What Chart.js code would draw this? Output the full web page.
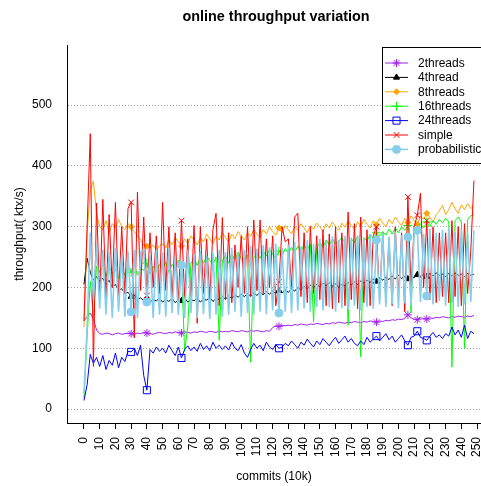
<!doctype html>
<html>
<head>
<meta charset="UTF-8" />
<script src="https://cdn.jsdelivr.net/npm/chart.js"></script>
<style>
  html, body { margin: 0; padding: 0; background: #fff; }
  canvas { display: block; }
</style>
</head>
<body>
<canvas id="throughputChart" width="481" height="486"></canvas>
<script>
// x positions (commits, in 10k)
const commits = [0,2,4,6,8,10,12,14,16,18,20,22,24,26,28,30,32,34,36,38,40,42,44,46,48,50,52,54,56,58,60,62,64,66,68,70,72,74,76,78,80,82,84,86,88,90,92,94,96,98,100,102,104,106,108,110,112,114,116,118,120,122,124,126,128,130,132,134,136,138,140,142,144,146,148,150,152,154,156,158,160,162,164,166,168,170,172,174,176,178,180,182,184,186,188,190,192,194,196,198,200,202,204,206,208,210,212,214,216,218,220,222,224,226,228,230,232,234,236,238,240,242,244,246,248];
const xTicks = [0,10,20,30,40,50,60,70,80,90,100,110,120,130,140,150,160,170,180,190,200,210,220,230,240,250];
const yTicks = [0,100,200,300,400,500];
// commits where the plot symbols sit
const markerAt = [30,40,62,124,186,206,212,218];

const twoThreads = [145,152,158,148,130,
  124,123,125,124,122,124,125,123,124,125,
  124,123,125,124,126,125,124,123,125,126,
  125,124,126,125,127,126,125,127,126,125,
  127,126,128,127,126,128,127,126,128,127,
  128,127,129,128,127,129,128,127,129,128,
  129,128,127,129,128,134,137,136,138,137,
  138,137,139,138,140,139,138,140,139,141,
  140,139,141,140,142,141,143,142,141,143,
  142,144,143,142,144,143,145,144,143,145,
  144,146,145,147,146,148,147,149,155,150,
  148,147,150,149,148,150,149,151,150,152,
  151,150,152,151,153,152,151,153,152,154];

const fourThread = [205,248,225,212,218,
  210,215,205,212,200,205,195,198,190,192,
  185,188,180,183,178,182,176,180,178,182,
  176,180,177,182,175,179,178,183,176,180,
  178,182,176,181,179,184,177,182,180,185,
  181,186,182,188,184,189,185,190,186,191,
  187,192,188,193,189,194,190,195,191,196,
  192,198,194,200,196,202,198,204,200,205,
  201,207,203,208,202,206,200,205,203,208,
  204,209,205,211,207,212,208,214,210,216,
  212,217,213,219,214,220,215,218,214,219,
  216,221,217,222,218,223,219,224,220,222,
  218,223,219,224,220,222,218,223,220,222];

const eightThreads = [135,290,360,375,320,
  300,295,310,290,305,298,312,300,295,305,
  300,292,285,278,270,268,265,270,262,268,
  272,265,278,270,282,275,268,280,272,285,
  278,270,282,275,288,280,272,285,278,290,
  282,275,288,280,292,285,278,290,284,295,
  288,282,295,288,300,292,286,298,290,302,
  295,288,300,294,305,298,290,302,296,306,
  300,292,305,298,308,300,294,306,299,310,
  302,296,308,300,312,304,298,310,303,314,
  306,300,312,305,316,308,302,314,307,318,
  310,304,318,312,322,315,308,320,326,335,
  320,328,340,330,322,336,328,338,330,334];

const sixteenThreads = [18,120,210,150,235,
  225,240,218,235,222,230,215,232,220,236,
  225,238,220,232,228,240,222,235,226,238,
  230,242,225,238,232,245,235,95,135,240,
  248,236,250,240,252,244,238,250,113,245,
  252,240,255,246,258,248,242,254,77,250,
  256,248,260,252,262,255,248,260,252,264,
  256,266,258,268,260,270,262,272,143,265,
  274,266,278,270,280,272,276,282,274,138,
  280,274,284,86,282,276,288,280,290,284,
  292,286,296,288,298,290,300,294,302,158,
  300,294,305,298,308,300,310,304,312,306,
  314,308,69,310,316,308,100,312,318,320];

const twentyFourThreads = [14,40,90,75,85,
  70,88,65,80,72,92,68,85,78,95,
  94,100,88,105,55,31,98,92,102,95,
  100,92,105,96,88,102,84,98,104,96,
  102,95,108,98,104,96,110,100,105,98,
  104,97,110,100,96,106,92,85,98,108,
  100,105,96,110,102,98,106,100,102,108,
  104,112,106,100,110,105,115,108,102,112,
  106,116,110,104,112,118,108,114,120,110,
  116,108,104,112,106,118,110,115,120,112,
  118,124,114,120,110,116,122,112,105,118,
  120,128,118,116,113,120,126,118,122,116,
  124,120,135,122,130,118,138,116,128,124];

const simple = [145,300,453,70,339,
  180,345,175,320,200,340,185,300,190,330,
  340,117,357,195,316,187,290,200,285,190,
  340,195,300,180,290,170,310,185,280,175,
  302,141,300,190,280,180,295,322,170,315,
  180,290,175,270,200,285,190,300,185,311,
  195,311,190,280,200,285,170,209,300,275,
  280,200,316,322,185,290,175,300,190,285,
  180,295,170,288,165,300,175,290,170,324,
  180,305,165,316,175,295,170,285,300,180,
  290,175,280,170,300,185,290,160,349,200,
  300,319,355,200,310,180,300,175,290,185,
  290,175,310,185,300,170,305,190,260,376];

const probabilistic = [26,135,290,180,270,
  165,262,155,258,150,265,160,255,152,260,
  160,262,150,258,262,176,255,150,262,155,
  258,152,265,158,250,155,237,150,262,158,
  255,150,260,156,252,148,258,155,262,152,
  258,155,265,160,255,152,262,158,268,155,
  264,160,270,156,266,162,272,158,265,160,
  270,158,275,162,268,165,278,160,272,168,
  280,162,276,168,284,160,278,166,285,164,
  282,170,286,162,280,168,288,165,278,172,
  290,168,284,172,292,166,286,174,283,170,
  292,294,176,288,186,296,172,290,178,295,
  170,298,175,292,168,296,172,290,176,294];

const FONT = "'Liberation Sans', Arial, Helvetica, sans-serif";
Chart.defaults.font.family = FONT;
Chart.defaults.color = "#000";

const series = [
  { label: "2threads", values: twoThreads, color: "#A020F0", fill: "#A020F0", style: "star", radius: 4, width: 1 },
  { label: "4thread", values: fourThread, color: "#000000", fill: "#000000", style: "triangle", radius: 3.5, width: 1 },
  { label: "8threads", values: eightThreads, color: "#FFA500", fill: "#FFA500", style: "rectRot", radius: 3, width: 1 },
  { label: "16threads", values: sixteenThreads, color: "#00FF00", fill: "#00FF00", style: "cross", radius: 4.5, width: 1 },
  { label: "24threads", values: twentyFourThreads, color: "#0000FF", fill: "rgba(0,0,0,0)", style: "rect", radius: 5, width: 1 },
  { label: "simple", values: simple, color: "#FF0000", fill: "#FF0000", style: "crossRot", radius: 4, width: 1 },
  { label: "probabilistic", values: probabilistic, color: "#87CEEB", fill: "#87CEEB", style: "circle", radius: 4, width: 1.6 }
];

const datasets = series.map((s, i) => ({
  label: s.label,
  data: commits.map((c, k) => ({ x: c, y: s.values[k] })),
  borderColor: s.color,
  backgroundColor: s.fill,
  borderWidth: s.width,
  pointStyle: s.style,
  pointRadius: ctx => markerAt.includes(commits[ctx.dataIndex]) ? s.radius : 0,
  pointHoverRadius: 0,
  pointBorderColor: s.color,
  pointBackgroundColor: s.fill,
  pointBorderWidth: 1,
  tension: 0,
  order: series.length - 1 - i
}));

const titlePlugin = {
  id: "mainTitle",
  afterDraw(chart) {
    const ctx = chart.ctx;
    ctx.save();
    ctx.font = "bold 14.4px " + FONT;
    ctx.fillStyle = "#000";
    ctx.textAlign = "center";
    ctx.textBaseline = "middle";
    ctx.fillText("online throughput variation", 276, 17);
    ctx.restore();
  }
};

const boxLegend = {
  id: "boxLegend",
  afterDraw(chart) {
    const ctx = chart.ctx;
    const left = 382, top = 47, rowH = 14.4;
    ctx.save();
    ctx.fillStyle = "#fff";
    ctx.fillRect(left, top, 120, 116);
    ctx.strokeStyle = "#000";
    ctx.lineWidth = 1;
    ctx.strokeRect(left + 0.5, top + 0.5, 120, 116);
    ctx.font = "12px " + FONT;
    ctx.textBaseline = "middle";
    ctx.textAlign = "left";
    series.forEach((s, i) => {
      const y = top + 16 + i * rowH;
      ctx.strokeStyle = s.color;
      ctx.lineWidth = s.width;
      ctx.beginPath();
      ctx.moveTo(385, y);
      ctx.lineTo(408, y);
      ctx.stroke();
      ctx.fillStyle = s.fill;
      ctx.lineWidth = 1;
      if (Chart.helpers && Chart.helpers.drawPoint) {
        Chart.helpers.drawPoint(ctx, { pointStyle: s.style, radius: s.radius, rotation: 0, borderWidth: 1 }, 396.5, y);
      }
      ctx.fillStyle = "#000";
      ctx.fillText(s.label, 418, y + 0.5);
    });
    ctx.restore();
  }
};

new Chart(document.getElementById("throughputChart"), {
  type: "line",
  data: { datasets },
  options: {
    responsive: false,
    animation: false,
    events: [],
    layout: { padding: { top: 45, left: 0, right: 0, bottom: 0 }, autoPadding: false },
    plugins: { legend: { display: false }, tooltip: { enabled: false }, title: { display: false } },
    scales: {
      x: {
        type: "linear",
        min: -10.8,
        max: 252.5,
        afterBuildTicks: s => { s.ticks = xTicks.map(v => ({ value: v })); },
        afterFit: s => { s.height = 63; s.paddingLeft = 0; s.paddingRight = 0; },
        grid: { drawOnChartArea: false, drawTicks: true, tickLength: 6, tickColor: "#000", color: "#000" },
        border: { display: true, color: "#000", width: 1 },
        ticks: {
          autoSkip: false, minRotation: 90, maxRotation: 90, padding: 8,
          color: "#000", font: { family: FONT, size: 12 },
          callback: v => String(v)
        },
        title: { display: true, text: "commits (10k)", color: "#000", font: { family: FONT, size: 12 }, padding: { top: 0, bottom: 2 } }
      },
      y: {
        min: -23,
        max: 599,
        afterBuildTicks: s => { s.ticks = yTicks.map(v => ({ value: v })); },
        afterFit: s => { s.width = 67; s.paddingTop = 0; s.paddingBottom = 0; },
        grid: { color: "#a0a0a0", lineWidth: 1, drawTicks: false },
        border: { display: true, color: "#000", width: 1, dash: [1, 2] },
        ticks: { padding: 15, color: "#000", font: { family: FONT, size: 12 } },
        title: { display: true, text: "throughput( ktx/s)", color: "#000", font: { family: FONT, size: 12 }, padding: { top: 12, bottom: 0 } }
      }
    }
  },
  plugins: [titlePlugin, boxLegend]
});
</script>
</body>
</html>
